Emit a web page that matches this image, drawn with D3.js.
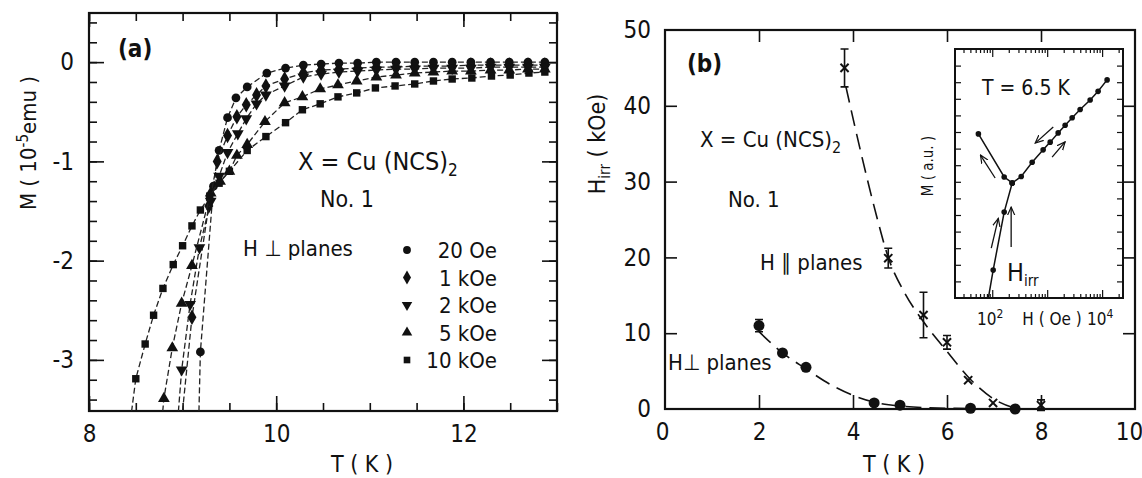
<!DOCTYPE html>
<html>
<head>
<meta charset="utf-8">
<script src="https://cdn.jsdelivr.net/npm/d3@7"></script>
<style>
  body { margin: 0; background: #fff; }
  svg text { font-family: 'Liberation Sans Narrow', 'DejaVu Sans Condensed', sans-serif; fill: #111; }
</style>
</head>
<body>
<div id="chart"></div>
<script>
// ---------- panel (a): M vs T, H perpendicular to planes ----------
const fieldLabels = ['20 Oe', '1 kOe', '2 kOe', '5 kOe', '10 kOe'];

const t20 = [9.17, 9.19, 9.33, 9.39, 9.48, 9.57, 9.69, 9.90, 10.10, 10.29, 10.48, 10.67, 10.87, 11.07, 11.28, 11.48, 11.68, 11.88, 12.08, 12.29, 12.49, 12.69, 12.87];
const m20 = [-3.7, -2.92, -1.25, -0.89, -0.56, -0.36, -0.25, -0.11, -0.06, -0.03, -0.02, -0.01, -0.01, 0, 0, 0, 0, 0, 0, 0, 0, 0, 0];

const t1k = [8.98, 9.10, 9.28, 9.37, 9.48, 9.58, 9.68, 9.79, 9.89, 10.09, 10.29, 10.48, 10.67, 10.87, 11.07, 11.28, 11.48, 11.68, 11.88, 12.08, 12.29, 12.49, 12.69, 12.87];
const m1k = [-3.7, -2.57, -1.45, -1.00, -0.74, -0.55, -0.43, -0.33, -0.24, -0.17, -0.11, -0.08, -0.07, -0.06, -0.05, -0.05, -0.04, -0.04, -0.04, -0.03, -0.03, -0.03, -0.03, -0.03];

const t2k = [8.94, 8.99, 9.08, 9.18, 9.30, 9.39, 9.48, 9.59, 9.68, 9.79, 9.89, 10.09, 10.29, 10.48, 10.67, 10.87, 11.07, 11.28, 11.48, 11.68, 11.88, 12.08, 12.29, 12.49, 12.69, 12.87];
const m2k = [-3.7, -3.10, -2.44, -1.87, -1.40, -1.15, -0.91, -0.72, -0.57, -0.42, -0.33, -0.24, -0.15, -0.12, -0.10, -0.09, -0.08, -0.07, -0.07, -0.06, -0.06, -0.06, -0.05, -0.05, -0.05, -0.05];

const t5k = [8.77, 8.80, 8.89, 8.99, 9.10, 9.30, 9.40, 9.50, 9.58, 9.69, 9.88, 10.09, 10.28, 10.47, 10.66, 10.86, 11.07, 11.28, 11.48, 11.68, 11.88, 12.08, 12.29, 12.49, 12.69, 12.87];
const m5k = [-3.7, -3.39, -2.88, -2.43, -2.05, -1.32, -1.20, -1.10, -0.94, -0.83, -0.60, -0.41, -0.35, -0.27, -0.23, -0.19, -0.15, -0.13, -0.11, -0.10, -0.09, -0.09, -0.08, -0.08, -0.07, -0.07];

const t10k = [8.43, 8.50, 8.60, 8.69, 8.79, 8.90, 9.00, 9.10, 9.19, 9.29, 9.39, 9.50, 9.69, 9.89, 10.10, 10.28, 10.47, 10.66, 10.86, 11.06, 11.27, 11.48, 11.68, 11.88, 12.09, 12.30, 12.50, 12.70, 12.87];
const m10k = [-3.7, -3.19, -2.84, -2.55, -2.28, -2.04, -1.85, -1.65, -1.49, -1.35, -1.22, -1.10, -0.89, -0.75, -0.61, -0.48, -0.42, -0.35, -0.31, -0.26, -0.24, -0.22, -0.19, -0.17, -0.16, -0.14, -0.13, -0.11, -0.10];

const aXTicks = [8, 10, 12];
const aYTicks = [0, -1, -2, -3];

// ---------- panel (b): irreversibility field ----------
const tPar = [3.82, 4.75, 5.5, 6.0, 6.45, 6.98, 8.0];
const hPar = [45.0, 19.9, 12.4, 8.8, 3.8, 0.8, 0.5];
const ePar = [2.5, 1.3, 3.0, 0.9, 0, 0, 0.7];
const tParFit = [3.85, 4.2, 4.5, 4.75, 5.1, 5.5, 6.0, 6.5, 7.0, 7.5];
const hParFit = [42.5, 33, 25.5, 20, 15.3, 11.5, 7.6, 3.9, 1.3, 0];

const tPerp = [2.0, 2.5, 3.0, 4.45, 5.0, 6.5, 7.45];
const hPerp = [11.0, 7.4, 5.5, 0.8, 0.5, 0.1, 0.0];
const ePerp = [0.8, 0, 0, 0, 0, 0, 0];
const tPerpFit = [2.0, 2.5, 3.0, 3.5, 4.0, 4.45, 5.0, 6.0, 7.5];
const hPerpFit = [10.2, 7.4, 5.3, 3.3, 1.8, 0.9, 0.4, 0.1, 0];

const bXTicks = [0, 2, 4, 6, 8, 10];
const bYTicks = [0, 10, 20, 30, 40, 50];

// ---------- inset: M vs H at T = 6.5 K ----------
const insDecH = [56, 165, 231];
const insDecM = [0.659, 0.486, 0.462];
const insLowH = [85, 104, 165, 231];
const insLowM = [0, 0.112, 0.345, 0.462];
const insHighH = [231, 337, 533, 845, 1135, 1585, 2123, 2851, 3981, 6053, 8456, 12330];
const insHighM = [0.462, 0.488, 0.545, 0.595, 0.626, 0.663, 0.694, 0.724, 0.757, 0.795, 0.830, 0.876];
// arrows: [H from, M from, H to, M to]
const insArrows = [
  [113, 0.482, 61, 0.574],
  [96, 0.20, 129, 0.32],
  [221, 0.205, 221, 0.365],
  [1290, 0.687, 606, 0.622],
  [1230, 0.566, 2120, 0.627]
];

const svg = d3.select('#chart')
  .append('svg')
  .attr('width', 1142)
  .attr('height', 478)
  .style('background', '#fff');

const defs = svg.append('defs');
defs.append('marker')
  .attr('id', 'arr')
  .attr('viewBox', '0 0 10 10')
  .attr('refX', 9).attr('refY', 5)
  .attr('markerWidth', 7).attr('markerHeight', 7)
  .attr('orient', 'auto')
  .append('path')
  .attr('d', 'M0,1 L9,5 L0,9')
  .attr('fill', 'none')
  .attr('stroke', '#111')
  .attr('stroke-width', 1.3);

function tickAxis(g, axis, values, len, fmt, pad, size) {
  g.call(axis.tickValues(values).tickSize(-len).tickPadding(pad || 3).tickFormat(fmt || ''));
  g.select('.domain').remove();
  g.selectAll('line').attr('stroke', '#111').attr('stroke-width', 1.6);
  g.selectAll('text').attr('font-size', size || 24).attr('fill', '#111')
    .style('font-family', "'Liberation Sans Narrow', 'DejaVu Sans Condensed', sans-serif");
  return g;
}

// ================= PANEL (a) =================
const xa = d3.scaleLinear().domain([8, 13]).range([89, 557]);
const ya = d3.scaleLinear().domain([-3.515, 0.495]).range([411, 13]);

const ga = svg.append('g').attr('class', 'panel-a');

const aMinorX = d3.range(8, 13.01, 0.5);
const aMinorY = d3.range(-3.4, 0.41, 0.2).map(v => +v.toFixed(1));
tickAxis(ga.append('g').attr('transform', 'translate(0,411)'), d3.axisBottom(xa), aMinorX, 8);
tickAxis(ga.append('g').attr('transform', 'translate(0,411)'), d3.axisBottom(xa), aXTicks, 15, d => d, 14);
tickAxis(ga.append('g').attr('transform', 'translate(0,13)'), d3.axisTop(xa), aMinorX, 8);
tickAxis(ga.append('g').attr('transform', 'translate(0,13)'), d3.axisTop(xa), aXTicks, 14);
tickAxis(ga.append('g').attr('transform', 'translate(89,0)'), d3.axisLeft(ya), aMinorY, 8);
tickAxis(ga.append('g').attr('transform', 'translate(89,0)'), d3.axisLeft(ya), aYTicks, 15, d => String(d), 15);
tickAxis(ga.append('g').attr('transform', 'translate(557,0)'), d3.axisRight(ya), aMinorY, 8);
tickAxis(ga.append('g').attr('transform', 'translate(557,0)'), d3.axisRight(ya), aYTicks, 15);

ga.append('rect')
  .attr('x', 89).attr('y', 13).attr('width', 557 - 89).attr('height', 411 - 13)
  .attr('fill', 'none').attr('stroke', '#111').attr('stroke-width', 2.2);

defs.append('clipPath').attr('id', 'clipA')
  .append('rect').attr('x', 89).attr('y', 13).attr('width', 468).attr('height', 398);

const series = [
  {label: fieldLabels[0], t: t20, m: m20, sym: d3.symbolCircle, size: 60, rot: 0},
  {label: fieldLabels[1], t: t1k, m: m1k, sym: d3.symbolDiamond, size: 70, rot: 0},
  {label: fieldLabels[2], t: t2k, m: m2k, sym: d3.symbolTriangle, size: 60, rot: 180},
  {label: fieldLabels[3], t: t5k, m: m5k, sym: d3.symbolTriangle, size: 60, rot: 0},
  {label: fieldLabels[4], t: t10k, m: m10k, sym: d3.symbolSquare, size: 55, rot: 0}
];

const lineA = d3.line().x(d => xa(d[0])).y(d => ya(d[1]));
const plotA = ga.append('g').attr('clip-path', 'url(#clipA)');

series.forEach(s => {
  const pts = s.t.map((t, i) => [t, s.m[i]]);
  plotA.append('path')
    .datum(pts)
    .attr('d', lineA)
    .attr('fill', 'none')
    .attr('stroke', '#222')
    .attr('stroke-width', 1.3)
    .attr('stroke-dasharray', '6,3');
  plotA.selectAll(null)
    .data(pts.filter(p => p[1] > -3.5))
    .enter().append('path')
      .attr('d', d3.symbol().type(s.sym).size(s.size))
      .attr('transform', d => `translate(${xa(d[0])},${ya(d[1])}) rotate(${s.rot})`)
      .attr('fill', '#111');
});

// legend
const legX = 407, legY0 = 250, legDy = 27.5;
series.forEach((s, i) => {
  ga.append('path')
    .attr('d', d3.symbol().type(s.sym).size(s.size * 0.8))
    .attr('transform', `translate(${legX},${legY0 + i * legDy}) rotate(${s.rot})`)
    .attr('fill', '#111');
  ga.append('text')
    .attr('x', 497).attr('y', legY0 + i * legDy + 8)
    .attr('text-anchor', 'end')
    .attr('font-size', 22)
    .text(s.label);
});

ga.append('text').attr('x', 118).attr('y', 57).attr('font-size', 24).attr('font-weight', 'bold').text('(a)');
const fa = ga.append('text').attr('x', 298).attr('y', 170).attr('font-size', 25);
fa.append('tspan').text('X = Cu (NCS)');
fa.append('tspan').attr('dy', 6).attr('font-size', 17).text('2');
ga.append('text').attr('x', 320).attr('y', 207).attr('font-size', 23).text('No. 1');
ga.append('text').attr('x', 243).attr('y', 256).attr('font-size', 22).text('H \u22A5 planes');

ga.append('text').attr('x', 362).attr('y', 472).attr('text-anchor', 'middle').attr('font-size', 23).text('T ( K )');
const yla = ga.append('text')
  .attr('transform', 'translate(36,143) rotate(-90)')
  .attr('text-anchor', 'middle')
  .attr('font-size', 22);
yla.append('tspan').text('M  ( 10');
yla.append('tspan').attr('dy', -8).attr('font-size', 15).text('-5');
yla.append('tspan').attr('dy', 8).text('emu )');

// ================= PANEL (b) =================
const xb = d3.scaleLinear().domain([0, 10]).range([665, 1135]);
const yb = d3.scaleLinear().domain([0, 50]).range([409, 30]);
const gb = svg.append('g').attr('class', 'panel-b');

tickAxis(gb.append('g').attr('transform', 'translate(0,409)'), d3.axisBottom(xb), bXTicks.slice(1, -1), 14);
const bxLab = tickAxis(gb.append('g').attr('transform', 'translate(0,409)'), d3.axisBottom(xb), bXTicks, 0, d => d, 14);
bxLab.selectAll('text').filter(d => d === 10).attr('dx', -6);
bxLab.selectAll('text').filter(d => d === 0).attr('dx', -3);
tickAxis(gb.append('g').attr('transform', 'translate(0,30)'), d3.axisTop(xb), bXTicks.slice(1, -1), 12);
tickAxis(gb.append('g').attr('transform', 'translate(665,0)'), d3.axisLeft(yb), bYTicks.slice(1, -1), 12);
tickAxis(gb.append('g').attr('transform', 'translate(665,0)'), d3.axisLeft(yb), bYTicks, 0, d => d, 14);
tickAxis(gb.append('g').attr('transform', 'translate(1135,0)'), d3.axisRight(yb), bYTicks.slice(1, -1), 12);

gb.append('rect')
  .attr('x', 665).attr('y', 30).attr('width', 1135 - 665).attr('height', 409 - 30)
  .attr('fill', 'none').attr('stroke', '#111').attr('stroke-width', 2.2);

const lineB = d3.line().x(d => xb(d[0])).y(d => yb(d[1])).curve(d3.curveMonotoneX);
[[tParFit, hParFit], [tPerpFit, hPerpFit]].forEach(([ts, hs]) => {
  gb.append('path')
    .datum(ts.map((t, i) => [t, hs[i]]))
    .attr('d', lineB)
    .attr('fill', 'none')
    .attr('stroke', '#111')
    .attr('stroke-width', 1.6)
    .attr('stroke-dasharray', '16,8');
});

// error bars
function errBars(ts, hs, es) {
  ts.forEach((t, i) => {
    if (!es[i]) return;
    const x = xb(t), y1 = yb(hs[i] - es[i]), y2 = yb(hs[i] + es[i]);
    gb.append('path')
      .attr('d', `M${x},${y1}V${y2}M${x - 4},${y1}H${x + 4}M${x - 4},${y2}H${x + 4}`)
      .attr('stroke', '#111').attr('stroke-width', 1.6).attr('fill', 'none');
  });
}
errBars(tPar, hPar, ePar);
errBars(tPerp, hPerp, ePerp);

gb.selectAll('.cross')
  .data(tPar.map((t, i) => [t, hPar[i]]))
  .enter().append('path')
    .attr('class', 'cross')
    .attr('d', d3.symbol().type(d3.symbolX).size(45))
    .attr('transform', d => `translate(${xb(d[0])},${yb(d[1])})`)
    .attr('stroke', '#111').attr('stroke-width', 2).attr('fill', 'none');

gb.selectAll('.dot')
  .data(tPerp.map((t, i) => [t, hPerp[i]]))
  .enter().append('circle')
    .attr('class', 'dot')
    .attr('cx', d => xb(d[0])).attr('cy', d => yb(d[1]))
    .attr('r', 5.5)
    .attr('fill', '#111');

gb.append('text').attr('x', 687).attr('y', 72).attr('font-size', 24).attr('font-weight', 'bold').text('(b)');
const fb = gb.append('text').attr('x', 700).attr('y', 147).attr('font-size', 22);
fb.append('tspan').text('X = Cu (NCS)');
fb.append('tspan').attr('dy', 6).attr('font-size', 16).text('2');
gb.append('text').attr('x', 728).attr('y', 207).attr('font-size', 22).text('No. 1');
gb.append('text').attr('x', 760).attr('y', 270).attr('font-size', 22).text('H \u2225 planes');
gb.append('text').attr('x', 668).attr('y', 370).attr('font-size', 22).text('H\u22A5 planes');

gb.append('text').attr('x', 894).attr('y', 472).attr('text-anchor', 'middle').attr('font-size', 23).text('T ( K )');
const ylb = gb.append('text')
  .attr('transform', 'translate(605,144) rotate(-90)')
  .attr('text-anchor', 'middle')
  .attr('font-size', 23);
ylb.append('tspan').text('H');
ylb.append('tspan').attr('dy', 5).attr('font-size', 15).text('irr');
ylb.append('tspan').attr('dy', -5).text(' ( kOe)');

// ================= INSET =================
const xi = d3.scaleLog().domain([21, 24000]).range([955, 1123]);
const yi = d3.scaleLinear().domain([0, 1]).range([298, 49]);
const gi = svg.append('g').attr('class', 'inset');

gi.append('rect')
  .attr('x', 955).attr('y', 49).attr('width', 1123 - 955).attr('height', 298 - 49)
  .attr('fill', '#fff').attr('stroke', '#111').attr('stroke-width', 2);

const logMinor = [];
[10, 100, 1000, 10000].forEach(dec => d3.range(2, 10).forEach(k => {
  const v = dec * k;
  if (v > 21 && v < 24000) logMinor.push(v);
}));
const logMajor = [100, 1000, 10000];
const insYTicks = d3.range(1, 15).map(i => i / 15);
tickAxis(gi.append('g').attr('transform', 'translate(0,298)'), d3.axisBottom(xi), logMinor, 4);
tickAxis(gi.append('g').attr('transform', 'translate(0,298)'), d3.axisBottom(xi), logMajor, 8);
tickAxis(gi.append('g').attr('transform', 'translate(0,49)'), d3.axisTop(xi), logMinor, 4);
tickAxis(gi.append('g').attr('transform', 'translate(0,49)'), d3.axisTop(xi), logMajor, 8);
tickAxis(gi.append('g').attr('transform', 'translate(955,0)'), d3.axisLeft(yi), insYTicks, 6);
tickAxis(gi.append('g').attr('transform', 'translate(1123,0)'), d3.axisRight(yi), insYTicks, 6);
gi.selectAll('g line').attr('stroke-width', 1.2);

const lineI = d3.line().x(d => xi(d[0])).y(d => yi(d[1]));
const branches = [[insDecH, insDecM], [insLowH, insLowM], [insHighH, insHighM]];
branches.forEach(([hs, ms]) => {
  gi.append('path')
    .datum(hs.map((h, i) => [h, ms[i]]))
    .attr('d', lineI)
    .attr('fill', 'none').attr('stroke', '#111').attr('stroke-width', 1.5);
  gi.selectAll(null)
    .data(hs.map((h, i) => [h, ms[i]]).filter(d => d[1] > 0.01))
    .enter().append('circle')
      .attr('cx', d => xi(d[0])).attr('cy', d => yi(d[1]))
      .attr('r', 2.8).attr('fill', '#111');
});

gi.selectAll('.arrow')
  .data(insArrows)
  .enter().append('line')
    .attr('class', 'arrow')
    .attr('x1', d => xi(d[0])).attr('y1', d => yi(d[1]))
    .attr('x2', d => xi(d[2])).attr('y2', d => yi(d[3]))
    .attr('stroke', '#111').attr('stroke-width', 1.3)
    .attr('marker-end', 'url(#arr)');

gi.append('text').attr('x', 982).attr('y', 95).attr('font-size', 21).text('T = 6.5 K');
gi.append('text')
  .attr('transform', 'translate(933,166) rotate(-90)')
  .attr('text-anchor', 'middle').attr('font-size', 15).text('M ( a.u. )');
const hirr = gi.append('text').attr('x', 1007).attr('y', 281).attr('font-size', 25);
hirr.append('tspan').text('H');
hirr.append('tspan').attr('dy', 5).attr('font-size', 15).text('irr');

[[100, '10', '2'], [10000, '10', '4']].forEach(([v, b, e]) => {
  const t = gi.append('text').attr('x', xi(v) - 2).attr('y', 325).attr('text-anchor', 'middle').attr('font-size', 17);
  t.append('tspan').text(b);
  t.append('tspan').attr('dy', -7).attr('font-size', 12).text(e);
});
gi.append('text').attr('x', 1052).attr('y', 325).attr('text-anchor', 'middle').attr('font-size', 17).text('H ( Oe )');
</script>
</body>
</html>
